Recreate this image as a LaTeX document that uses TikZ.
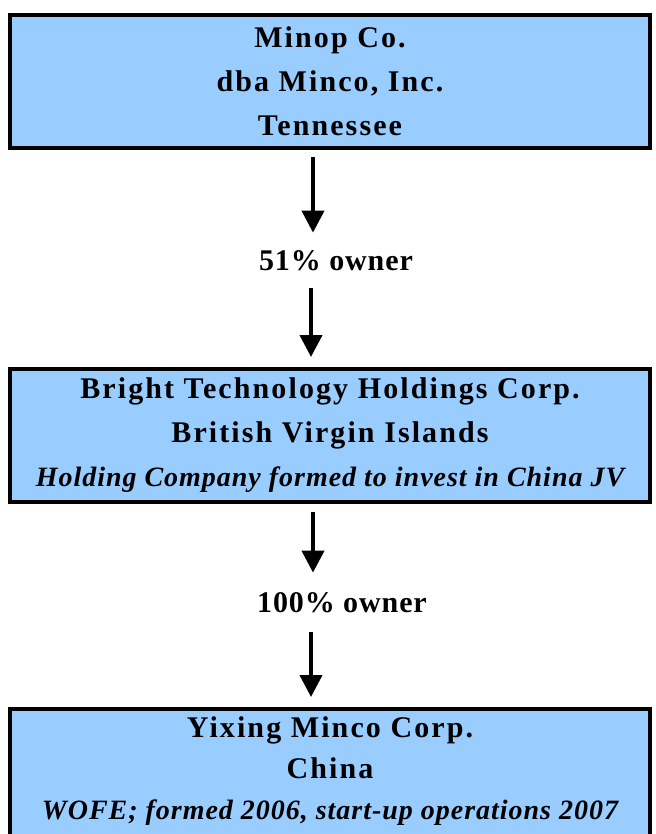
\documentclass[tikz,border=0pt]{standalone}
\usepackage{fontspec}
\setmainfont{Liberation Serif}
\usetikzlibrary{arrows.meta}
\definecolor{boxblue}{HTML}{99CCFF}
\begin{document}
\begin{tikzpicture}[x=1pt,y=-1pt,
  box/.style={draw=black, line width=4pt, fill=boxblue, minimum width=640pt,
    inner sep=0pt, align=center, anchor=north,
    font=\fontsize{30}{44}\selectfont\bfseries\addfontfeatures{LetterSpace=7}},
  boxtext/.style={inner sep=0pt, align=center,
    font=\fontsize{30}{41}\selectfont\bfseries\addfontfeatures{LetterSpace=7}},
  lbl/.style={inner sep=0pt, font=\fontsize{30}{30}\selectfont\bfseries\addfontfeatures{LetterSpace=3}},
  arr/.style={line width=4pt, -{Triangle[width=22pt,length=22pt]}}]
\useasboundingbox (0,0) rectangle (655,834);
\clip (0,0) rectangle (655,834);
\fill[white] (0,0) rectangle (655,834);
\node[box, minimum height=133pt] (minop) at (330,13)
  {Minop Co.\\dba Minco, Inc.\\Tennessee};
\node[box, minimum height=133pt] (bright) at (330,367)
  {Bright Technology Holdings Corp.\\British Virgin Islands\\
   {\fontsize{28}{44}\selectfont\itshape\addfontfeatures{LetterSpace=3.5}Holding Company formed to invest in China JV}};
\node[box, minimum height=160pt] (yixing) at (330,707) {};
\node[boxtext] (yixingtext) at (330,771)
  {Yixing Minco Corp.\\China\\
   {\fontsize{28}{41}\selectfont\itshape\addfontfeatures{LetterSpace=3.5}WOFE; formed 2006, start-up operations 2007}};
\node[lbl] (own51) at (336,261) {51\% owner};
\node[lbl] (own100) at (342,603) {100\% owner};
\draw[arr, shorten <=7pt, shorten >=18pt] ([xshift=-17pt]minop.south) -- ([xshift=-23pt]own51.north);
\draw[arr, shorten <=17pt, shorten >=10pt] ([xshift=-25pt]own51.south) -- ([xshift=-19pt]bright.north);
\draw[arr, shorten <=8pt, shorten >=20pt] ([xshift=-17pt]bright.south) -- ([xshift=-29pt]own100.north);
\draw[arr, shorten <=19pt, shorten >=10pt] ([xshift=-31pt]own100.south) -- ([xshift=-19pt]yixing.north);
\end{tikzpicture}
\end{document}
